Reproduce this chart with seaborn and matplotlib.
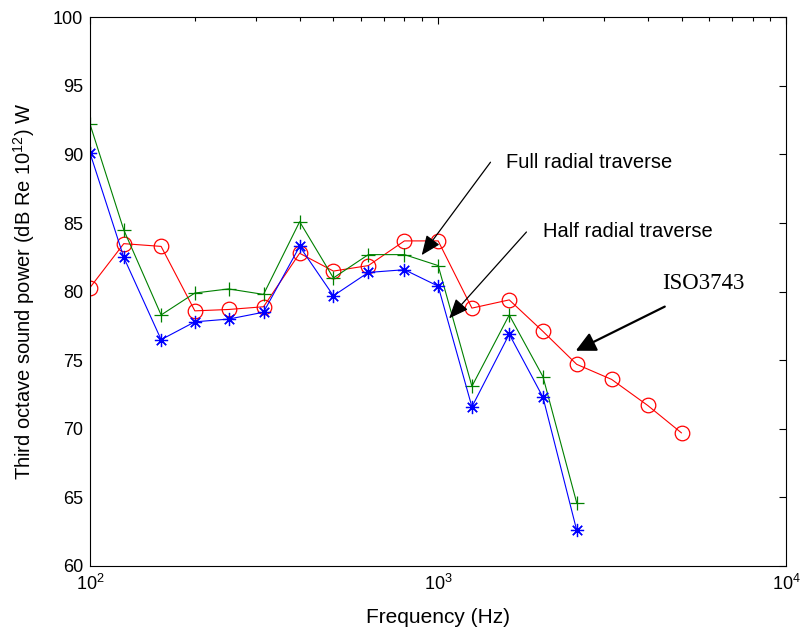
import matplotlib
matplotlib.use("Agg")
import matplotlib.pyplot as plt
import seaborn as sns
import pandas as pd

freq = [100, 125, 160, 200, 250, 315, 400, 500, 630, 800, 1000, 1250, 1600, 2000, 2500, 3150, 4000, 5000]
half_radial = [90.1, 82.5, 76.5, 77.8, 78.0, 78.5, 83.3, 79.7, 81.4, 81.6, 80.4, 71.6, 76.9, 72.3, 62.6]
full_radial = [92.2, 84.5, 78.3, 79.9, 80.2, 79.8, 85.1, 81.0, 82.7, 82.7, 81.9, 73.1, 78.3, 73.8, 64.6]
iso3743 = [80.3, 83.5, 83.3, 78.6, 78.7, 78.9, 82.8, 81.5, 81.9, 83.7, 83.7, 78.8, 79.4, 77.1, 74.7, 73.6, 71.7, 69.7]

sns.set_theme(style="white")
plt.rcParams['font.family'] = ['Liberation Sans', 'DejaVu Sans']
plt.rcParams['xtick.direction'] = 'in'
plt.rcParams['ytick.direction'] = 'in'
plt.rcParams['mathtext.fontset'] = 'custom'
plt.rcParams['mathtext.rm'] = 'Liberation Sans'
plt.rcParams['text.color'] = 'black'
plt.rcParams['axes.labelcolor'] = 'black'

fig = plt.figure(figsize=(8.04, 6.35), dpi=100)
ax = fig.add_axes([0.112, 0.1087, 0.866, 0.864])

df_half = pd.DataFrame({'f': freq[:len(half_radial)], 'p': half_radial})
df_full = pd.DataFrame({'f': freq[:len(full_radial)], 'p': full_radial})
df_iso = pd.DataFrame({'f': freq, 'p': iso3743})

sns.lineplot(data=df_iso, x='f', y='p', ax=ax, color='red', lw=0.8, marker='o',
             markersize=10.5, markerfacecolor='none', markeredgecolor='red', markeredgewidth=0.9)
sns.lineplot(data=df_full, x='f', y='p', ax=ax, color='green', lw=0.8, marker='+',
             markersize=10, markeredgecolor='green', markeredgewidth=0.9)
sns.lineplot(data=df_half, x='f', y='p', ax=ax, color='blue', lw=0.8, marker=(8, 2, 0),
             markersize=9.5, markeredgecolor='blue', markeredgewidth=0.9)

ax.set_xscale('log')
ax.set_xlim(100, 10000)
ax.set_ylim(60, 100)
ax.set_yticks(range(60, 101, 5))
ax.tick_params(which='both', top=True, right=True, labelsize=13, length=5, width=0.8,
               colors='black')
ax.tick_params(axis='x', pad=6)
ax.tick_params(axis='y', pad=5)
ax.tick_params(which='minor', length=3)
for s in ax.spines.values():
    s.set_color('black')
    s.set_linewidth(0.8)

ax.set_xlabel('Frequency (Hz)', fontsize=15)
ax.set_ylabel('Third octave sound power (dB Re 10$^{12}$) W', fontsize=14.5)
ax.xaxis.set_label_coords(0.5, -0.076)
ax.yaxis.set_label_coords(-0.076, 0.5)

arrow = dict(arrowstyle='-|>,head_length=0.6,head_width=0.25', color='black', lw=0.9, mutation_scale=20)
ax.annotate('', xy=(887, 82.5), xytext=(1429, 89.6), arrowprops=arrow)
ax.text(1567, 89.4, 'Full radial traverse', fontsize=14.5, va='center')
ax.annotate('', xy=(1062, 77.9), xytext=(1815, 84.5), arrowprops=arrow)
ax.text(2004, 84.4, 'Half radial traverse', fontsize=14.5, va='center')
ax.annotate('', xy=(2443, 75.6), xytext=(4550, 79.0),
            arrowprops=dict(arrowstyle='-|>,head_length=0.6,head_width=0.3', color='black',
                            lw=1.6, mutation_scale=20))
ax.text(4406, 80.6, 'ISO3743', fontsize=16.5, va='center', family=['Liberation Serif', 'DejaVu Serif'])

fig.savefig('out.png', dpi=100)
